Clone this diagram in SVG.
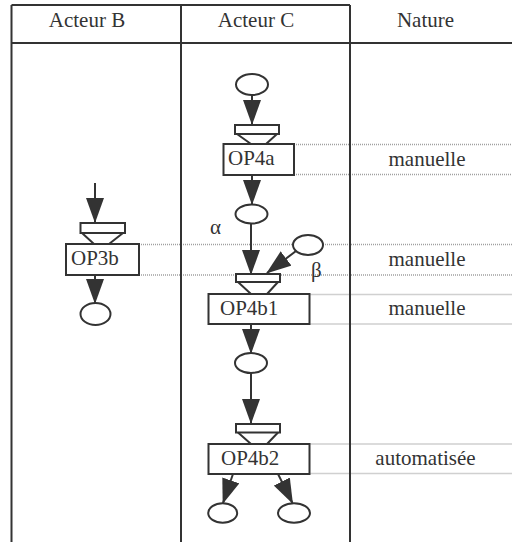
<svg xmlns="http://www.w3.org/2000/svg" width="512" height="542" viewBox="0 0 512 542" font-family="'Liberation Serif', 'Times New Roman', serif">
  <style>
    .ln { stroke: #333; stroke-width: 2; fill: none; }
    .box { stroke: #333; stroke-width: 2; fill: #fff; }
    .ell { stroke: #333; stroke-width: 2; fill: #fff; }
    .dot { stroke: #a0a0a0; stroke-width: 1.5; stroke-dasharray: 1 1; fill: none; }
    .arr { stroke: #333; stroke-width: 2; fill: none; marker-end: url(#ah); }
    text { font-family: "Liberation Serif", "Times New Roman", serif; font-size: 21px; fill: #333; }
    .mid { text-anchor: middle; }
  </style>
  <defs>
    <marker id="ah" markerUnits="userSpaceOnUse" markerWidth="25" markerHeight="18" viewBox="0 0 25 18" refX="24" refY="9" orient="auto">
      <path d="M0,0 L25,9 L0,18 z" fill="#333"/>
    </marker>
  </defs>
  <rect width="512" height="542" fill="#fff"/>

  <!-- dotted guide lines -->
  <g id="guides">
    <line class="dot" x1="294" y1="144.5" x2="512" y2="144.5"/>
    <line class="dot" x1="294" y1="174.5" x2="512" y2="174.5"/>
    <line class="dot" x1="139" y1="244.5" x2="512" y2="244.5"/>
    <line class="dot" x1="139" y1="275" x2="512" y2="275"/>
    <line class="dot" x1="309.5" y1="294.5" x2="512" y2="294.5"/>
    <line class="dot" x1="309.5" y1="324" x2="512" y2="324"/>
    <line class="dot" x1="309.5" y1="444" x2="512" y2="444"/>
    <line class="dot" x1="309.5" y1="473.5" x2="512" y2="473.5"/>
  </g>

  <!-- table -->
  <g id="table">
    <path class="ln" d="M11.5,5 H350 M11.5,43 H512 M11.5,5 V542 M181,5 V542 M350,5 V542"/>
    <text class="mid" x="87" y="26.5">Acteur B</text>
    <text class="mid" x="256" y="26.5">Acteur C</text>
    <text class="mid" x="425.5" y="26.5">Nature</text>
  </g>

  <!-- connectors -->
  <g id="connectors">
    <line class="arr" x1="252" y1="95" x2="252" y2="124"/>
    <line class="arr" x1="252" y1="175" x2="252" y2="204"/>
    <line class="arr" x1="251" y1="223.5" x2="251" y2="274"/>
    <line class="arr" x1="296" y1="251" x2="267" y2="273"/>
    <line class="arr" x1="251" y1="324" x2="251" y2="353"/>
    <line class="arr" x1="251" y1="373" x2="251" y2="423"/>
    <line class="arr" x1="233" y1="474" x2="223" y2="503"/>
    <line class="arr" x1="278" y1="474" x2="292.5" y2="503"/>
    <line class="arr" x1="95" y1="183" x2="95" y2="222"/>
    <line class="arr" x1="95" y1="275" x2="95" y2="303"/>
  </g>

  <!-- Acteur C nodes -->
  <g id="start-c"><ellipse class="ell" cx="252" cy="84.5" rx="16" ry="10.5"/></g>
  <g id="in-op4a">
    <rect class="box" x="235" y="125" width="44" height="9"/>
    <path class="ln" d="M237,134 L251,144 M277,134 L266,144"/>
  </g>
  <g id="op4a">
    <rect class="box" x="223.5" y="144" width="70.5" height="31"/>
    <text x="228" y="165">OP4a</text>
  </g>
  <g id="state-alpha">
    <ellipse class="ell" cx="251.5" cy="214" rx="16" ry="9.5"/>
    <text x="210" y="234" fill="#333">α</text>
  </g>
  <g id="state-beta">
    <ellipse class="ell" cx="308" cy="245" rx="15" ry="10"/>
    <text x="311" y="277" fill="#333">β</text>
  </g>
  <g id="in-op4b1">
    <rect class="box" x="236" y="274" width="44" height="8"/>
    <path class="ln" d="M238,282 L251,294 M278,282 L267,294"/>
  </g>
  <g id="op4b1">
    <rect class="box" x="208.5" y="294" width="101" height="30"/>
    <text x="220" y="315">OP4b1</text>
  </g>
  <g id="state-c3"><ellipse class="ell" cx="251" cy="363" rx="16" ry="10"/></g>
  <g id="in-op4b2">
    <rect class="box" x="236" y="424" width="44" height="8.5"/>
    <path class="ln" d="M238,432.5 L251,444 M278,432.5 L267,444"/>
  </g>
  <g id="op4b2">
    <rect class="box" x="208.5" y="444" width="101" height="30"/>
    <text x="221" y="465">OP4b2</text>
  </g>
  <g id="end-c1"><ellipse class="ell" cx="222.7" cy="513" rx="14.5" ry="9.7"/></g>
  <g id="end-c2"><ellipse class="ell" cx="294" cy="513" rx="16" ry="9.7"/></g>

  <!-- Acteur B nodes -->
  <g id="in-op3b">
    <rect class="box" x="80.5" y="223" width="44.5" height="10"/>
    <path class="ln" d="M82,233 L94,244 M123,233 L109,244"/>
  </g>
  <g id="op3b">
    <rect class="box" x="66" y="244" width="73" height="31"/>
    <text x="71" y="265">OP3b</text>
  </g>
  <g id="end-b"><ellipse class="ell" cx="95.5" cy="314" rx="15" ry="11"/></g>

  <!-- Nature column -->
  <g id="nature">
    <text class="mid" x="427" y="166">manuelle</text>
    <text class="mid" x="427" y="266">manuelle</text>
    <text class="mid" x="427" y="315">manuelle</text>
    <text class="mid" x="425.5" y="465">automatisée</text>
  </g>
</svg>
